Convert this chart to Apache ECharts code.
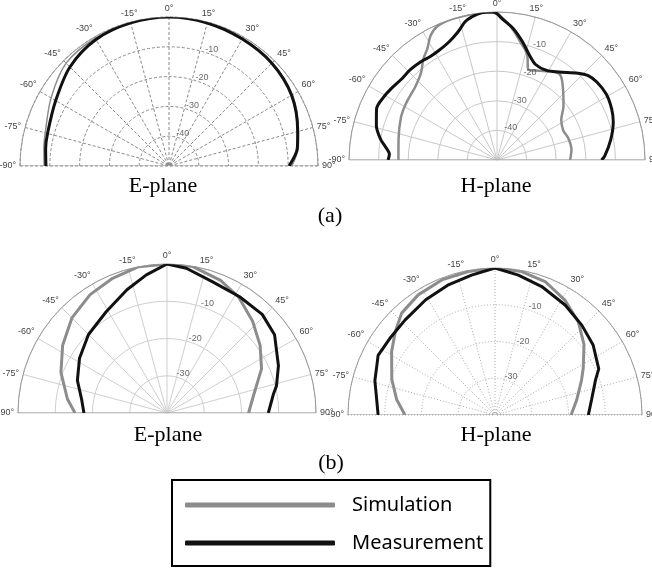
<!DOCTYPE html>
<html>
<head>
<meta charset="utf-8">
<script src="https://cdn.jsdelivr.net/npm/echarts@6/dist/echarts.min.js"></script>
<style>
html, body { margin: 0; padding: 0; background: #fff; }
#chart { width: 652px; height: 569px; }
</style>
</head>
<body>
<div id="chart"></div>
<script>
// ring labels (dB)
var ringsA = [-10, -20, -30, -40];
var ringsB = [-10, -20, -30];

// (a) E-plane
var eaAngles = [-90, -82, -75, -60, -45, -30, -15, 0, 15, 30, 45, 60, 75, 82, 90];
var eaSim = [-8.1, -7.6, -7.0, -4.3, -1.2, -0.5, -0.2, 0, -0.2, -0.6, -1.0, -2.2, -5.0, -6.2, -8.8];
var eaMeas = [-8.7, -8.2, -7.8, -6.1, -3.0, -1.0, -0.3, 0, -0.3, -0.8, -1.2, -2.5, -5.3, -6.5, -9.7];

// (a) H-plane
var haSimAngles = [-90, -78, -66, -58, -48, -41, -36, -32, -28, -24, -18, -10, -4, 0, 1, 4, 7, 11, 16, 19, 26, 36, 43, 51, 58, 66, 73, 82, 90];
var haSim = [-16.7, -16.0, -14.5, -13.8, -12.9, -10.9, -7.7, -5.6, -2.3, -0.5, 0, 0, 0, -0.4, -1.1, -3.2, -5.7, -9.2, -13.0, -17.6, -16.5, -14.1, -17.3, -21.1, -24.4, -25.5, -24.8, -24.6, -25.3];
var haMeasAngles = [-90, -87, -83, -80, -74, -67, -61, -56, -50, -44, -38, -33, -28, -22, -17, -13, -10, -6, -2, 0, 2, 7, 12, 17, 22, 29, 35, 43, 47, 52, 59, 66, 72, 80, 88, 90];
var haMeas = [-13.2, -13.6, -11.9, -10.1, -7.6, -5.8, -6.2, -6.9, -7.7, -7.7, -8.0, -8.4, -8.1, -6.9, -4.8, -2.1, -0.9, 0, 0, -0.6, -2.2, -5.2, -9.0, -12.8, -15.2, -15.4, -13.7, -9.9, -8.1, -7.2, -6.9, -7.6, -8.7, -11.0, -13.6, -14.7];

// (b) E-plane
var ebSimAngles = [-90, -82, -69, -57, -45, -33, -22, -11, 0, 10, 22, 32, 43, 54, 65, 79, 90];
var ebSim = [-15.3, -13.0, -9.5, -6.6, -3.9, -2.1, -1.0, 0, 0, -0.1, -1.6, -3.5, -6.3, -9.1, -12.0, -16.4, -18.1];
var ebMeasAngles = [-90, -81, -70, -58, -45, -31, -18, -8.5, 0, 7.6, 19, 32, 44, 54, 67, 76, 80, 90];
var ebMeas = [-17.7, -16.8, -14.4, -12.3, -10.2, -8.3, -5.2, -2.5, 0, -0.8, -2.7, -3.2, -3.2, -4.3, -7.5, -9.7, -11.0, -12.8];

// (b) H-plane
var hbSimAngles = [-90, -81, -71, -58.5, -50, -42.5, -32.6, -21.5, -10.5, 0, 10.5, 20.6, 31.3, 41.8, 51.6, 62, 68, 79.6, 90];
var hbSim = [-15.5, -12.9, -10.3, -7.0, -4.6, -2.4, -1.2, -0.5, -0.3, 0, -0.3, -1.2, -3.4, -6.0, -9.1, -12.8, -14.6, -17.4, -19.3];
var hbMeasAngles = [-90, -74, -67, -63, -54, -43.5, -31, -20, -9.5, 0, 9.5, 20, 32.5, 44, 54.5, 66, 71, 81, 90];
var hbMeas = [-8.2, -6.0, -5.1, -4.3, -4.6, -4.4, -3.4, -2.4, -1.4, 0, -1.4, -2.8, -4.5, -6.0, -7.2, -9.1, -11.1, -13.4, -14.6];

function pairs(angles, vals) {
	var out = [];
	for (var i = 0; i < vals.length; i++) {
		out.push([vals[i], angles[i]]);
	}
	return out;
}

var plots = [
	{ center: [169, 166], radius: 149, min: -50, rings: ringsA, grid: '#8a8a8a', gridType: [3, 2],
	  sim: pairs(eaAngles, eaSim), meas: pairs(eaAngles, eaMeas), smooth: 0.3, simWidth: 1.5 },
	{ center: [497, 160], radius: 148, min: -50, rings: ringsA, grid: '#c8c8c8', gridType: 'solid',
	  sim: pairs(haSimAngles, haSim), meas: pairs(haMeasAngles, haMeas), smooth: 0.3, simWidth: 2.5 },
	{ center: [167, 413], radius: 149, min: -40, rings: ringsB, grid: '#cfcfcf', gridType: 'solid',
	  sim: pairs(ebSimAngles, ebSim), meas: pairs(ebMeasAngles, ebMeas), smooth: false, simWidth: 3 },
	{ center: [495, 415], radius: 147, min: -40, rings: ringsB, grid: '#a8a8a8', gridType: [1, 2],
	  sim: pairs(hbSimAngles, hbSim), meas: pairs(hbMeasAngles, hbMeas), smooth: false, simWidth: 3 }
];

var polar = [], angleAxis = [], radiusAxis = [], series = [];
for (var i = 0; i < plots.length; i++) {
	var p = plots[i];
	polar.push({ center: p.center, radius: p.radius });
	angleAxis.push({
		polarIndex: i, type: 'value', min: -90, max: 90, interval: 15,
		startAngle: 180, endAngle: 0, clockwise: true,
		axisLine: { lineStyle: { color: '#9a9a9a', width: 1 } },
		axisTick: { show: false },
		axisLabel: { formatter: '{value}°', fontSize: 9, color: '#444', margin: 4, fontFamily: 'Liberation Sans' },
		splitLine: { lineStyle: { color: p.grid, type: p.gridType, width: 1 } }
	});
	radiusAxis.push({
		polarIndex: i, type: 'value', min: p.min, max: 0, interval: 10,
		axisLine: { show: false }, axisTick: { show: false }, axisLabel: { show: false },
		splitLine: { lineStyle: { color: p.grid, type: p.gridType, width: 1 } }
	});
	// baseline
	series.push({
		type: 'line', coordinateSystem: 'polar', polarIndex: i, silent: true, symbol: 'none', z: 1,
		data: [[0, -90], [p.min, -90], [0, 90]],
		lineStyle: { color: '#9a9a9a', width: 1 }
	});
	// ring labels
	series.push({
		type: 'scatter', coordinateSystem: 'polar', polarIndex: i, silent: true, symbolSize: 1, z: 5,
		itemStyle: { color: 'rgba(0,0,0,0)' },
		data: p.rings.map(function (v) { return [v, 19]; }),
		label: { show: true, position: 'inside', offset: [4, -4], fontSize: 9, color: '#444', fontFamily: 'Liberation Sans',
			formatter: function (d) { return String(d.value[0]); } }
	});
	series.push({
		name: 'Simulation', type: 'line', coordinateSystem: 'polar', polarIndex: i,
		showSymbol: false, smooth: p.smooth, data: p.sim, z: 3,
		lineStyle: { color: '#8c8c8c', width: p.simWidth }, itemStyle: { color: '#8c8c8c' }
	});
	series.push({
		name: 'Measurement', type: 'line', coordinateSystem: 'polar', polarIndex: i,
		showSymbol: false, smooth: p.smooth, data: p.meas, z: 4,
		lineStyle: { color: '#111', width: 3 }, itemStyle: { color: '#111' }
	});
}

var serif = '22px "Liberation Serif", "Times New Roman", serif';
var chart = echarts.init(document.getElementById('chart'));
chart.setOption({
	animation: false,
	backgroundColor: '#fff',
	polar: polar,
	angleAxis: angleAxis,
	radiusAxis: radiusAxis,
	legend: {
		data: ['Simulation', 'Measurement'],
		orient: 'vertical', left: 172, top: 480,
		itemWidth: 150, itemHeight: 5, itemGap: 18,
		icon: 'roundRect',
		borderColor: '#000', borderWidth: 2, borderRadius: 0,
		padding: [15, 7, 13, 13],
		selectedMode: false,
		textStyle: { fontSize: 20, fontFamily: 'Noto Sans', color: '#000', padding: [0, 0, 0, 12] }
	},
	graphic: [
		{ type: 'text', x: 163, y: 186, style: { text: 'E-plane', font: serif, fill: '#000', align: 'center', verticalAlign: 'middle' } },
		{ type: 'text', x: 496, y: 186, style: { text: 'H-plane', font: serif, fill: '#000', align: 'center', verticalAlign: 'middle' } },
		{ type: 'text', x: 330, y: 216, style: { text: '(a)', font: serif, fill: '#000', align: 'center', verticalAlign: 'middle' } },
		{ type: 'text', x: 168, y: 435, style: { text: 'E-plane', font: serif, fill: '#000', align: 'center', verticalAlign: 'middle' } },
		{ type: 'text', x: 496, y: 435, style: { text: 'H-plane', font: serif, fill: '#000', align: 'center', verticalAlign: 'middle' } },
		{ type: 'text', x: 331, y: 463, style: { text: '(b)', font: serif, fill: '#000', align: 'center', verticalAlign: 'middle' } }
	],
	series: series
});
</script>
</body>
</html>
